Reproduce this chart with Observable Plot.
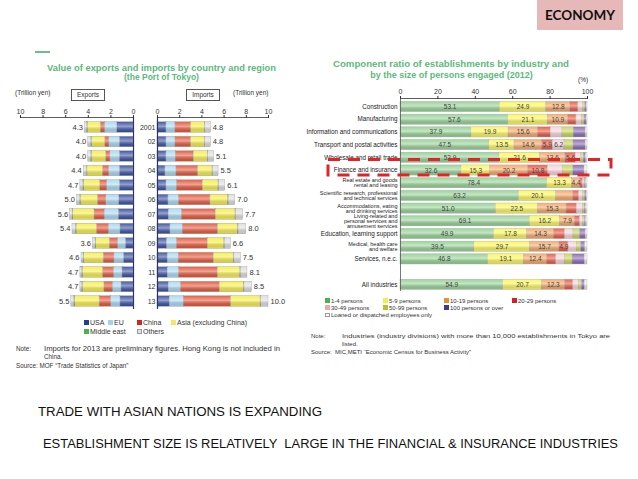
<!DOCTYPE html>
<html><head><meta charset="utf-8">
<script src="https://cdn.jsdelivr.net/npm/d3@7"></script>
<script src="https://cdn.jsdelivr.net/npm/@observablehq/plot@0.6"></script>
<style>
body{margin:0;background:#fff;}
#page{position:relative;width:638px;height:479px;overflow:hidden;background:#fff;font-family:"Liberation Sans",Arial,sans-serif;color:#333;}
.t{position:absolute;white-space:pre;line-height:1;}
.box{position:absolute;border:0.8px solid #555;font-size:6.5px;line-height:1;display:flex;align-items:center;justify-content:center;}
.sw{position:absolute;}
.chart{position:absolute;}
</style></head>
<body>
<svg width="0" height="0" style="position:absolute">
<defs>
<linearGradient id="shine" x1="0" y1="0" x2="0" y2="1">
<stop offset="0" stop-color="#fff" stop-opacity="0.05"/>
<stop offset="0.45" stop-color="#fff" stop-opacity="0.45"/>
<stop offset="1" stop-color="#000" stop-opacity="0.08"/>
</linearGradient>
</defs></svg>
<div id="page"></div>
<script>
// ---------- DATA: trade (Port of Tokyo), trillion yen ----------
const years = ["2001","02","03","04","05","06","07","08","09","10","11","12","13"];
const regions = ["USA","EU","China","Asia (excluding China)","Middle east","Others"];
const exportTotals = [4.3,4.0,4.0,4.4,4.7,5.0,5.6,5.4,3.6,4.6,4.7,4.7,5.5];
const importTotals = [4.8,4.8,5.1,5.5,6.1,7.0,7.7,8.0,6.6,7.5,8.1,8.5,10.0];
const expUSA    = [1.45,1.22,1.22,1.22,1.22,1.28,1.31,1.16,0.68,0.86,0.98,1.07,1.16];
const expEU     = [1.08,0.92,0.83,0.95,1.13,1.13,1.25,1.04,0.71,0.83,0.77,0.77,0.83];
const expChina  = [0.37,0.36,0.36,0.54,0.60,0.74,0.89,1.04,0.71,0.95,0.95,0.74,1.01];
const expAsia   = [1.15,1.19,1.28,1.37,1.43,1.52,1.88,1.80,1.20,1.72,1.79,1.91,2.17];
const expME     = [0.05,0.05,0.05,0.05,0.06,0.06,0.06,0.07,0.06,0.06,0.06,0.06,0.07];
const expOthers = [0.20,0.26,0.26,0.27,0.26,0.27,0.21,0.29,0.24,0.18,0.15,0.15,0.26];
const impUSA    = [0.81,0.81,0.81,0.72,0.81,0.99,1.02,1.17,0.87,0.93,0.93,1.02,1.11];
const impEU     = [0.81,0.81,0.84,0.99,0.96,0.96,1.20,1.11,0.90,0.99,1.02,1.11,1.26];
const impChina  = [1.41,1.41,1.62,1.95,2.31,2.82,3.03,3.18,2.76,3.15,3.48,3.48,4.26];
const impAsia   = [1.23,1.23,1.26,1.30,1.42,1.60,1.78,1.79,1.50,1.80,2.04,2.17,2.66];
const impME     = [0.04,0.04,0.04,0.04,0.05,0.05,0.05,0.05,0.04,0.05,0.05,0.05,0.05];
const impOthers = [0.50,0.50,0.53,0.50,0.55,0.58,0.62,0.70,0.53,0.58,0.58,0.67,0.66];

// ---------- DATA: establishments by size (2012), % ----------
const industries = ["Construction","Manufacturing","Information and communications","Transport and postal activities","Wholesale and retail trade","Finance and insurance","Real estate and goods\nrental and leasing","Scientific research, professional\nand technical services","Accommodations, eating\nand drinking services","Living-related and\npersonal services and\namusement services","Education, learning support","Medical, health care\nand welfare","Services, n.e.c.","All industries"];
const sizes = ["1-4 persons","5-9 persons","10-19 persons","20-29 persons","30-49 persons","50-99 persons","100 persons or over","Loaned or dispatched employees only"];
const s1_4   = [53.1,57.6,37.9,47.5,52.9,32.6,78.4,63.2,51.0,69.1,49.9,39.5,46.8,54.9];
const s5_9   = [24.9,21.1,19.9,13.5,21.6,15.3,13.3,20.1,22.5,16.2,17.8,29.7,19.1,20.7];
const s10_19 = [12.8,10.9,15.6,14.6,13.6,20.2,4.4,9.0,15.3,7.9,14.3,15.7,12.4,12.3];
const s20_29 = [4.3,4.5,7.0,5.9,5.6,10.8,1.5,3.2,5.5,2.8,6.0,4.9,5.0,4.5];
const s30_49 = [2.5,3.0,6.2,6.2,3.0,8.0,0.8,2.2,3.2,1.8,4.5,4.5,4.5,3.0];
const s50_99 = [1.2,1.3,6.0,4.8,1.3,5.5,0.4,1.0,1.0,0.8,3.5,2.3,4.2,1.6];
const s100   = [0.7,1.1,6.4,6.5,1.2,6.0,0.4,0.8,0.7,0.6,3.0,2.2,6.5,1.5];
const sLoan  = [0.5,0.5,1.0,1.0,0.8,1.6,0.8,0.5,0.8,0.8,1.0,1.2,1.5,1.5];
const labelledCount = [3,3,3,5,4,4,3,2,3,3,3,4,3,3];

// ---------- styles ----------
const regionColors = ["#3b52a3","#a9d9f2","#e4583c","#f7ee48","#4caf50","#dedede"];
const regionLegend = ["#1f3c96","#a0d2ee","#d42424","#f5e860","#4caf50","#e2e2e2"];
const sizeColors = ["#96d296","#fbf65a","#f4a868","#e85a44","#f8d3d9","#c9d65a","#8a6ab2","#ebebeb"];
const sizeLegend = ["#4caf50","#eeee55","#e0922e","#d42020","#e8a8b2","#b8c030","#403c8c","#ffffff"];
const FONT = "Liberation Sans, Arial, sans-serif";

const page = document.getElementById("page");

function tidyTrade(series) {
  const out = [];
  years.forEach((y, i) => regions.forEach((r, k) => out.push({year: y, region: r, value: series[k][i]})));
  return out;
}
const exportsData = tidyTrade([expUSA,expEU,expChina,expAsia,expME,expOthers]);
const importsData = tidyTrade([impUSA,impEU,impChina,impAsia,impME,impOthers]);
const expTot = years.map((y,i)=>({year:y,total:exportTotals[i]}));
const impTot = years.map((y,i)=>({year:y,total:importTotals[i]}));

const yTrade = {domain: years, axis: null, round: false, paddingInner: 0.28, paddingOuter: 0.14, insetTop: 2.75, insetBottom: 0.75};
const plotStyle = {background:"transparent", overflow:"visible", fontFamily: FONT, fontSize:"7px", color:"#333"};

function tradePlot(data, tot, isExport, opts) {
  return Plot.plot({
    ...opts,
    style: plotStyle,
    x: {domain:[0,10], reverse: isExport, axis:"top", ticks:5, tickSize:3, tickPadding:1, label:null},
    y: isExport ? yTrade : {...yTrade, axis:"left", tickSize:0, tickPadding:2, label:null},
    color: {domain: regions, range: regionColors},
    marks: [
      Plot.barX(data, Plot.stackX({x:"value", y:"year", fill:"region", order: regions, stroke:"#9a9a9a", strokeWidth:0.4})),
      Plot.barX(data, Plot.stackX({x:"value", y:"year", z:"region", order: regions, fill:"url(#shine)"})),
      Plot.text(tot, {x:"total", y:"year", text: d => d.total.toFixed(1), textAnchor: isExport ? "end" : "start", dx: isExport ? -2 : 2, fontSize: 7.5, fill:"#333"}),
      Plot.ruleX([0], {stroke:"#2a3460", strokeWidth:1.2}),
      Plot.frame({anchor:"top", stroke:"#333", strokeWidth:0.8})
    ]
  });
}

function addChart(svg, left, top) {
  const d = document.createElement("div");
  d.className = "chart"; d.style.left = left + "px"; d.style.top = top + "px";
  d.appendChild(svg); page.appendChild(d);
}

addChart(tradePlot(exportsData, expTot, true, {width:136, height:212, marginTop:17, marginBottom:3, marginLeft:20, marginRight:3}), 0, 100);
addChart(tradePlot(importsData, impTot, false, {width:154, height:212, marginTop:17, marginBottom:3, marginLeft:23, marginRight:20}), 134, 100);

// ---------- industry chart ----------
const sizeSeries = [s1_4,s5_9,s10_19,s20_29,s30_49,s50_99,s100,sLoan];
const indData = [];
industries.forEach((ind, i) => sizes.forEach((s, k) => indData.push({industry: ind, size: s, value: sizeSeries[k][i], shown: k < labelledCount[i]})));
const yDomain = [...industries.slice(0,13), " ", industries[13]];

const indPlot = Plot.plot({
  width: 291, height: 223, marginTop: 28, marginBottom: 2, marginLeft: 92, marginRight: 12,
  style: plotStyle,
  x: {domain:[0,100], axis:"top", ticks:5, tickSize:3, tickPadding:2, label:null},
  y: {domain: yDomain, axis:null, round:false, paddingInner:0.2, paddingOuter:0.1, insetTop:2.15, insetBottom:0.35},
  color: {domain: sizes, range: sizeColors},
  marks: [
    Plot.barX(indData, Plot.stackX({x:"value", y:"industry", fill:"size", order: sizes, stroke:"#a8a8a8", strokeWidth:0.4})),
    Plot.barX(indData, Plot.stackX({x:"value", y:"industry", z:"size", order: sizes, fill:"url(#shine)"})),
    Plot.text(indData, Plot.stackX({x:"value", y:"industry", z:"size", order: sizes, text: d => d.shown ? d.value.toFixed(1) : "", fontSize: 6.5, fill:"#444"})),
    Plot.text(industries, {y: d => d, text: d => d, frameAnchor:"left", textAnchor:"end", dx:-3, fontSize: d => d.includes("\n") ? 5.5 : 6.3, lineHeight: 0.88, fill:"#222"}),
    Plot.ruleX([0], {stroke:"#555", strokeWidth:0.8}),
    Plot.frame({anchor:"top", stroke:"#333", strokeWidth:0.8})
  ]
});
addChart(indPlot, 308, 70);

// ---------- texts ----------
const texts = [
 {t:"Value of exports and imports by country and region", x:161.5, cy:68, s:8.5, b:700, a:"middle", w:229, c:"#5cb97b"},
 {t:"(the Port of Tokyo)", x:161.5, cy:77.5, s:8.5, b:700, a:"middle", c:"#5cb97b"},
 {t:"(Trillion yen)", x:15, cy:93.3, s:6.5},
 {t:"(Trillion yen)", x:233, cy:93.3, s:6.5},
 {t:"Component ratio of establishments by industry and", x:451, cy:64.5, s:9, b:700, a:"middle", w:236, c:"#5cb97b"},
 {t:"by the size of persons engaged (2012)", x:451.5, cy:75, s:9, b:700, a:"middle", c:"#5cb97b"},
 {t:"(%)", x:578, cy:80, s:6.5},
 {t:"Note:", x:16, cy:349, s:6.3},
 {t:"Imports for 2013 are preliminary figures. Hong Kong is not included in", x:44, cy:349, s:6.3, w:236},
 {t:"China.", x:44, cy:357, s:6.3},
 {t:"Source: MOF \u201CTrade Statistics of Japan\u201D", x:16, cy:365.7, s:6.3},
 {t:"Note:", x:311, cy:336, s:6},
 {t:"Industries (industry divisions) with more than 10,000 establishments in Tokyo are", x:342, cy:336, s:6, w:268},
 {t:"listed.", x:342, cy:343.7, s:6},
 {t:"Source:  MIC,METI \u201CEconomic Census for Business Activity\u201D", x:311, cy:352, s:6},
 {t:"TRADE WITH ASIAN NATIONS IS EXPANDING", x:38, cy:412, s:12.5, f:"'Liberation Sans Narrow', 'Liberation Sans', sans-serif", w:284, c:"#111"},
 {t:"ESTABLISHMENT SIZE IS RELATIVELY  LARGE IN THE FINANCIAL & INSURANCE INDUSTRIES", x:43, cy:444, s:12.5, f:"'Liberation Sans Narrow', 'Liberation Sans', sans-serif", w:575, c:"#111"}
];

// ECONOMY tag
const tag = document.createElement("div");
tag.style.cssText = "position:absolute;left:537px;top:0;width:86px;height:30px;background:#e6b9b8;";
page.appendChild(tag);
texts.push({t:"ECONOMY", x:580, cy:15.5, s:13.5, b:700, f:"Lato, sans-serif", a:"middle", w:70, c:"#111"});

// green dash
const dash = document.createElement("div");
dash.style.cssText = "position:absolute;left:35px;top:51px;width:15px;height:1.5px;background:#6cbf8a;";
page.appendChild(dash);

// boxes
[["Exports",71,89],["Imports",186,89]].forEach(([t,x,y]) => {
  const b = document.createElement("div"); b.className = "box";
  b.style.left = x + "px"; b.style.top = y + "px"; b.style.width = "32px"; b.style.height = "9.5px";
  b.textContent = t; page.appendChild(b);
});

function placeText(o) {
  const d = document.createElement("div");
  d.className = "t"; d.textContent = o.t;
  d.style.fontSize = o.s + "px";
  d.style.fontWeight = o.b || 400;
  d.style.color = o.c || "#333";
  if (o.f) d.style.fontFamily = o.f;
  d.style.top = (o.cy - o.s/2) + "px";
  page.appendChild(d);
  const w = d.getBoundingClientRect().width;
  let sx = 1;
  if (o.w) sx = o.w / w;
  const drawn = w * sx;
  const left = o.a === "middle" ? o.x - drawn/2 : o.x;
  d.style.left = left + "px";
  d.style.transformOrigin = "0 50%";
  if (sx !== 1) d.style.transform = `scaleX(${sx})`;
}
texts.forEach(placeText);

// legends
function legendItem(label, color, x, cy, s, sw) {
  const q = document.createElement("div"); q.className = "sw";
  q.style.cssText = `position:absolute;left:${x}px;top:${cy - sw/2}px;width:${sw}px;height:${sw}px;background:${color};box-sizing:border-box;border:0.5px solid ${color === "#ffffff" || color === "#e2e2e2" ? "#999" : color};`;
  page.appendChild(q);
  placeText({t: label, x: x + sw + 1.5, cy, s});
}
const legL = [[0,84,322.7],[1,108,322.7],[2,137,322.7],[3,171,322.7],[4,84,331.7],[5,137,331.7]];
legL.forEach(([k,x,y]) => legendItem(regions[k], regionLegend[k], x, y, 7, 4.5));
const legR = [[0,325,300.7],[1,383,300.7],[2,444,300.7],[3,512,300.7],[4,325,307.7],[5,383,307.7],[6,444,307.7],[7,325,315]];
legR.forEach(([k,x,y]) => legendItem(sizes[k], sizeLegend[k], x, y, 6, 4.5));

// highlight of Finance and insurance (annotation overlay)
const ov = document.createElementNS("http://www.w3.org/2000/svg","svg");
ov.setAttribute("width","638"); ov.setAttribute("height","479");
ov.style.cssText = "position:absolute;left:0;top:0;pointer-events:none;";
ov.innerHTML = '<rect x="328" y="159.5" width="283" height="15.5" fill="none" stroke="#e0242a" stroke-width="3" stroke-dasharray="12 8"/>';
page.appendChild(ov);
</script>
</body></html>
